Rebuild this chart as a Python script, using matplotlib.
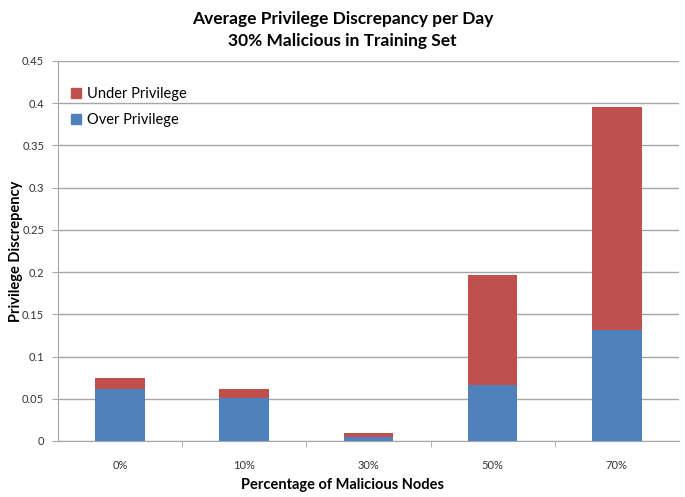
import numpy as np
import matplotlib.pyplot as plt
from matplotlib.patches import Patch

plt.rcParams['font.family'] = ['Lato', 'DejaVu Sans']

categories = ['0%', '10%', '30%', '50%', '70%']
over_priv = [0.062, 0.051, 0.005, 0.066, 0.132]
under_priv = [0.012, 0.011, 0.0045, 0.131, 0.263]

blue = '#4F81BD'
red = '#C0504D'
grid_c = '#A6A6A6'

fig = plt.figure(figsize=(6.85, 4.97), dpi=100)
ax = fig.add_axes([0.0847, 0.1127, 0.9063, 0.7646])

x = np.arange(len(categories))
ax.bar(x, over_priv, width=0.4, color=blue, zorder=3)
ax.bar(x, under_priv, width=0.4, bottom=over_priv, color=red, zorder=3)

ax.set_xlim(-0.5, len(categories) - 0.5)
ax.set_ylim(0, 0.45)
ax.set_yticks(np.arange(0, 0.451, 0.05))
ax.set_yticklabels(['0', '0.05', '0.1', '0.15', '0.2', '0.25', '0.3', '0.35', '0.4', '0.45'])
ax.yaxis.grid(True, color=grid_c, linewidth=1, zorder=0)

# category labels centred, tick marks between categories
ax.set_xticks(x)
ax.set_xticklabels(categories)
ax.tick_params(axis='x', length=0, pad=14, labelsize=8, colors='#333333')
ax.set_xticks(np.arange(0.5, len(categories) - 0.5, 1), minor=True)
ax.tick_params(axis='x', which='minor', length=4, color=grid_c, direction='out')
ax.tick_params(axis='y', length=4, color=grid_c, labelsize=8, colors='#333333', pad=6)

for side in ['top', 'right']:
    ax.spines[side].set_visible(False)
for side in ['left', 'bottom']:
    ax.spines[side].set_color(grid_c)

fig.text(0.5, 1 - 485 / 497, 'Percentage of Malicious Nodes', fontsize=10.5,
         fontweight='bold', ha='center', va='center')
fig.text(16 / 685, 1 - 251 / 497, 'Privilege Discrepency', fontsize=10.5,
         fontweight='bold', ha='center', va='center', rotation=90)
fig.text(0.5, 1 - 30 / 497, 'Average Privilege Discrepancy per Day\n30% Malicious in Training Set',
         fontsize=12.5, fontweight='bold', ha='center', va='center', linespacing=1.5)

handles = [Patch(color=red, label='Under Privilege'), Patch(color=blue, label='Over Privilege')]
ax.legend(handles=handles, loc='upper left', bbox_to_anchor=(0.0, 0.965), frameon=False,
          fontsize=10.5, handlelength=0.7, handleheight=0.7, handletextpad=0.4, labelspacing=0.8)

fig.savefig('out.png', dpi=100)
